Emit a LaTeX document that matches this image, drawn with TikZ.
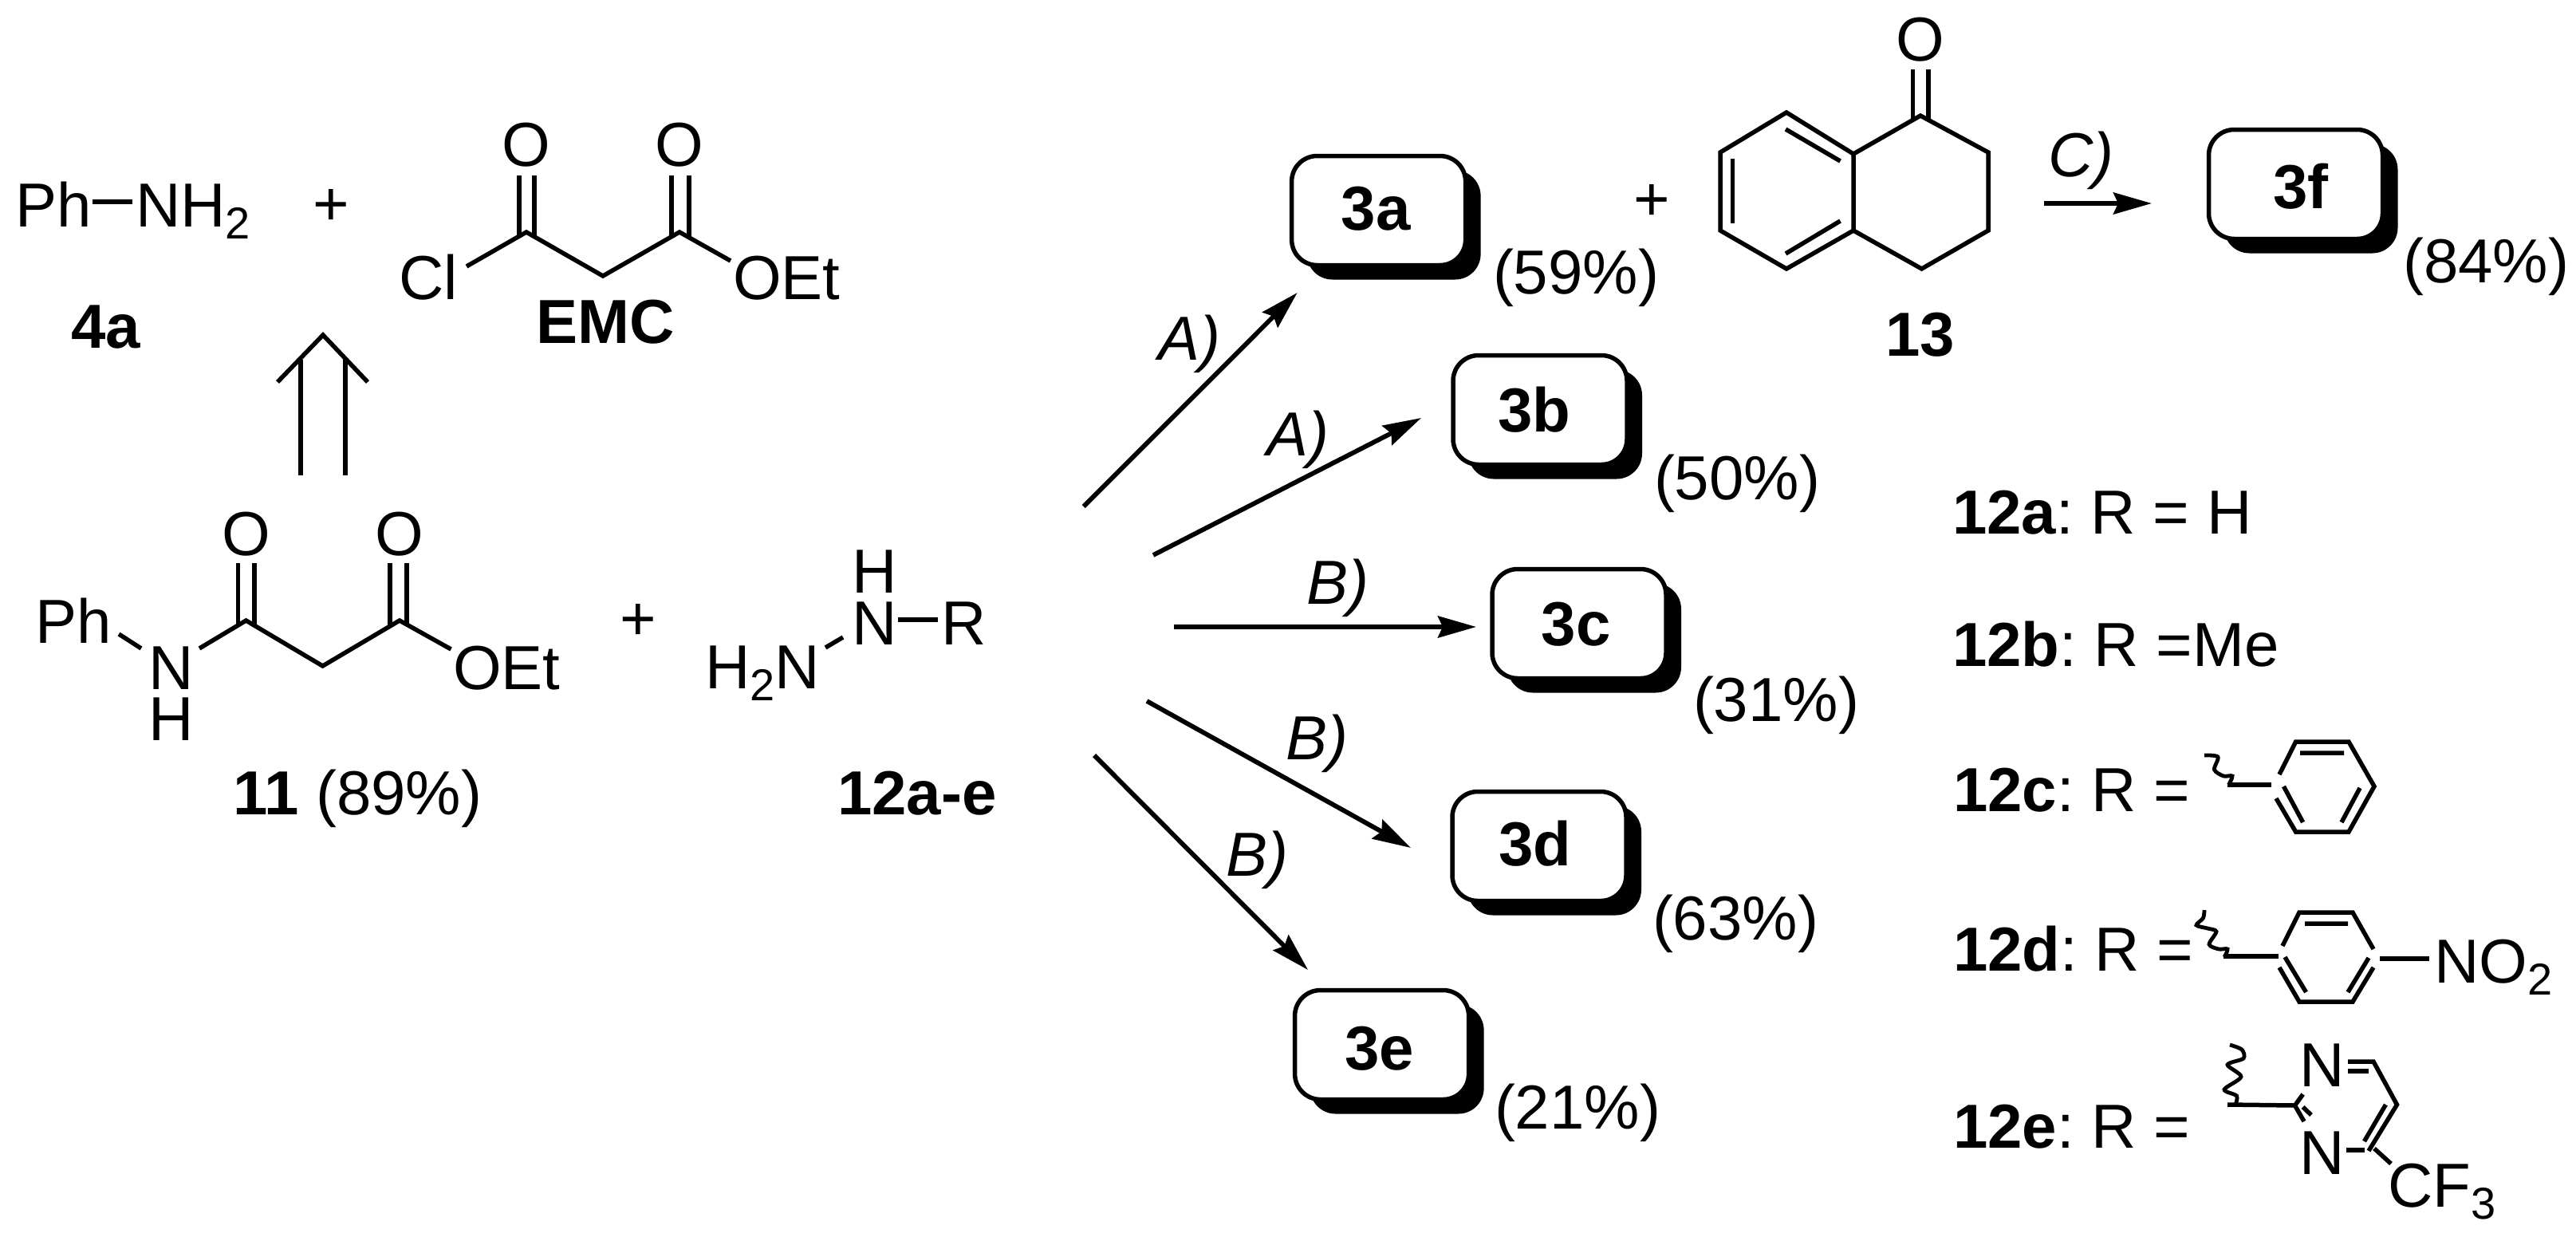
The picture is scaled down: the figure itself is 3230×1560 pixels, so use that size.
\documentclass[tikz,border=0pt]{standalone}
\usepackage{fontspec}
\setmainfont{Liberation Sans}
\usetikzlibrary{arrows.meta,calc,shadows}
\newcommand{\csub}[1]{\raisebox{-7.5pt}{\fontsize{28}{30}\selectfont #1}}
\tikzset{
  px/.style={x=0.5pt,y=-0.5pt},
  lbl/.style={anchor=base west,inner sep=0pt,outer sep=0pt,font=\fontsize{39}{46}\selectfont\frenchspacing},
  ctr/.style={anchor=base,inner sep=0pt,outer sep=0pt,font=\fontsize{39}{46}\selectfont},
  bond/.style={line width=2.75pt,line join=miter},
  rxn/.style={line width=2.9pt,-{Stealth[length=24pt,width=13.5pt,inset=3pt]}},
  prod/.style={draw,line width=2.75pt,fill=white,rounded corners=16pt,inner sep=0pt,outer sep=0pt,
    minimum width=109pt,minimum height=68.5pt,font=\fontsize{39}{46}\selectfont\bfseries,
    general shadow={shadow xshift=9.5pt,shadow yshift=-9pt,fill=black}}
}
\begin{document}
\begin{tikzpicture}[px]
\useasboundingbox (0,0) rectangle (3230,1560);
% ---- product boxes
\node[prod,text height=25pt] (b3a) at (1728.6,264) {\kern-3.5pt 3a};
\node[prod,text height=28pt] (b3b) at (1931,514) {\kern-7pt 3b};
\node[prod,text height=28pt] (b3c) at (1980,782) {\kern-4pt 3c};
\node[prod,text height=25pt] (b3d) at (1930,1061) {\kern-5pt 3d};
\node[prod,text height=32pt] (b3e) at (1732.6,1310) {\kern-3pt 3e};
\node[prod,text height=31pt] (b3f) at (2878.5,231) {\kern6.5pt 3f};
% ---- yields
\node[lbl] (y3a) at (1872,368) {(59\%)};
\node[lbl] (y3b) at (2074,626) {(50\%)};
\node[lbl] (y3c) at (2123,904) {(31\%)};
\node[lbl] (y3d) at (2072,1178) {(63\%)};
\node[lbl] (y3e) at (1874,1415) {(21\%)};
\node[lbl] (y3f) at (3013,354) {(84\%)};
% ---- reaction arrows
\coordinate (s3a) at (1358.7,635);
\coordinate (s3b) at (1446,696);
\coordinate (s3c) at (1472,786);
\coordinate (s3d) at (1438,879);
\coordinate (s3e) at (1372,947);
\coordinate (s3f) at (2563,255);
\draw[rxn] (s3a) -- ($(b3a.south west)+(7,34.5)$);
\draw[rxn] (s3b) -- ($(b3b.west)+(-40,10)$);
\draw[rxn] (s3c) -- ($(b3c.west)+(-20,4)$);
\draw[rxn] (s3d) -- ($(b3d.west)+(-52,2)$);
\draw[rxn] (s3e) -- ($(b3e.north west)+(16.4,-25.5)$);
\draw[rxn] (s3f) -- ($(b3f.west)+(-71.5,24)$);
\node[lbl] (la) at (1452,451) {\itshape A)};
\node[lbl] (lb) at (1588,571) {\itshape A)};
\node[lbl] (lc) at (1638,757) {\itshape B)};
\node[lbl] (ld) at (1612,952) {\itshape B)};
\node[lbl] (le) at (1537,1098) {\itshape B)};
\node[lbl] (lf) at (2568,221) {\itshape C)};
% ---- aniline + EMC
\node[lbl] (ph) at (19,284) {Ph};
\node[lbl] (nh) at (170,284) {NH\csub{2}};
\draw[bond] (116,253) -- (166,253);
\node[lbl] (n4a) at (89,436) {\bfseries 4a};
\node[ctr] (p1) at (415,282) {+};
\node[lbl] (cl) at (500,375) {Cl};
\node[lbl] (oet) at (919,375) {OEt};
\node[ctr] (o1) at (660,208) {O};
\node[ctr] (o2) at (852,208) {O};
\node[lbl] (emc) at (672,430) {\bfseries EMC};
\draw[bond] (585,334) -- (660,291) -- (756,346) -- (852,291) -- (916,327);
\draw[bond] (651,220) -- (651,296) (670,220) -- (670,297);
\draw[bond] (842,220) -- (842,297) (864,220) -- (864,297);
% ---- retro arrow
\draw[bond] (348,479) -- (405,420) -- (461,479);
\draw[bond] (377,451) -- (377,596) (433,451) -- (433,596);
% ---- 11
\node[lbl] (ph2) at (44,806) {Ph};
\node[lbl] (n11) at (186,864) {N};
\node[lbl] (h11) at (186,928) {H};
\node[lbl] (oet2) at (568,864) {OEt};
\node[ctr] (o3) at (308.5,696) {O};
\node[ctr] (o4) at (501,696) {O};
\draw[bond] (149,795) -- (177,813);
\draw[bond] (250,813) -- (308.5,778) -- (404.6,835) -- (501,778) -- (565.5,814);
\draw[bond] (298.5,706) -- (298.5,784) (319,706) -- (319,785);
\draw[bond] (489,706) -- (489,785) (510,706) -- (510,784);
\node[lbl] (n11l) at (292,1021) {\textbf{11} (89\%)};
\node[ctr] (p2) at (800,802) {+};
% ---- 12
\node[lbl] (h12) at (1068,743) {H};
\node[lbl] (n12) at (1068,808) {N};
\node[lbl] (r12) at (1180,808) {R};
\node[lbl] (h2n) at (884,863) {H\csub{2}N};
\draw[bond] (1126,777) -- (1176,777);
\draw[bond] (1035,812) -- (1057,799);
\node[lbl] (n12l) at (1050,1021) {\bfseries 12a-e};
% ---- 13
\node[ctr] (p3) at (2071,276) {+};
\node[ctr] (o13) at (2408,76) {O};
\draw[bond] (2398.5,87) -- (2398.5,150) (2418,87) -- (2418,150);
\draw[bond] (2408,145) -- (2493,191) -- (2493,289) -- (2409.5,337) -- (2324,289) -- (2324,193) -- cycle;
\draw[bond] (2324,193) -- (2240,141) -- (2157,191) -- (2157,289) -- (2240,337) -- (2324,289);
\draw[bond] (2239,162) -- (2307.5,202);
\draw[bond] (2172.6,199) -- (2172.6,280);
\draw[bond] (2239,318) -- (2307.5,277);
\node[lbl] (n13) at (2364,446) {\bfseries 13};
% ---- R list
\node[lbl] (r12a) at (2448,669) {\textbf{12a}: R = H};
\node[lbl] (r12b) at (2448,835) {\textbf{12b}: R =Me};
\node[lbl] (r12c) at (2449,1017) {\textbf{12c}: R =};
\node[lbl] (r12d) at (2449,1217) {\textbf{12d}: R =};
\node[lbl] (r12e) at (2449,1439) {\textbf{12e}: R =};
% 12c
\draw[bond,line width=2.4pt] plot[smooth] coordinates {(2764,947) (2781,949) (2776.5,965) (2788,973) (2799,973) (2794.5,984)};
\draw[bond] (2793,984) -- (2848,984);
\draw[bond] (2858,971) -- (2878.6,930) -- (2945,930) -- (2977,986) -- (2945,1043) -- (2878.6,1043) -- (2854,1001);
\draw[bond] (2863.5,986) -- (2887.6,1031) (2959,988) -- (2936,1031) (2884,944) -- (2939,944);
% 12d
\draw[bond,line width=2.4pt] plot[smooth] coordinates {(2764,1141) (2762.5,1151) (2754,1160) (2768,1164) (2779,1168) (2770,1184) (2782,1190) (2793,1190) (2789,1200)};
\draw[bond] (2788,1199) -- (2857,1199);
\draw[bond] (2862,1186) -- (2883,1144) -- (2950,1144) -- (2976,1190);
\draw[bond] (2858,1213) -- (2883,1256) -- (2950,1256) -- (2976,1213);
\draw[bond] (2865,1200) -- (2891.5,1244) (2970,1201) -- (2944,1244) (2890,1158) -- (2944,1158);
\draw[bond] (2984,1202) -- (3046,1202);
\node[lbl] (no2) at (3052,1232) {NO\csub{2}};
% 12e
\draw[bond,line width=2.4pt] plot[smooth] coordinates {(2796,1310) (2811,1316) (2813,1327) (2793,1335) (2810,1350) (2789,1366) (2804.5,1374) (2803,1385)};
\draw[bond] (2793,1385) -- (2877.5,1386) -- (2887.6,1372);
\draw[bond] (2877.5,1386) -- (2889,1406) (2887.6,1388) -- (2898,1398);
\node[lbl] (n1e) at (2883,1362) {N};
\node[lbl] (n3e) at (2883,1472) {N};
\draw[bond] (2944,1331) -- (2976,1331) -- (3005.5,1385) -- (2970,1443);
\draw[bond] (2944,1343) -- (2970,1343);
\draw[bond] (2991.4,1385) -- (2964.5,1431);
\draw[bond] (2942,1442) -- (2964.5,1442);
\draw[bond] (2977,1440) -- (2998,1459);
\node[lbl] (cf3) at (2994,1513) {CF\csub{3}};
\end{tikzpicture}
\end{document}
